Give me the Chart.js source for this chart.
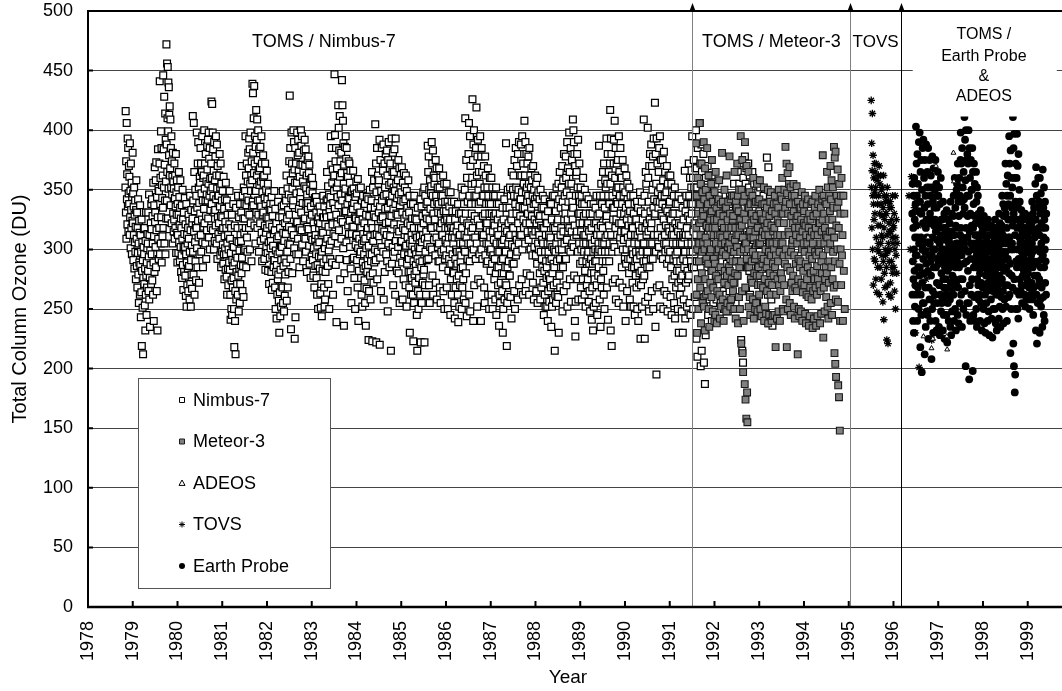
<!DOCTYPE html>
<html>
<head>
<meta charset="utf-8">
<title>Total Column Ozone</title>
<script src="https://cdn.jsdelivr.net/npm/chart.js@4.4.1/dist/chart.umd.min.js"></script>
<style>
  html, body { margin: 0; padding: 0; background: #fff; }
  canvas { display: block; }
</style>
</head>
<body>
<canvas id="ozone" width="1062" height="691"></canvas>
<script>
// axis ticks
const yearTicks = [1978, 1979, 1980, 1981, 1982, 1983, 1984, 1985, 1986, 1987, 1988,
  1989, 1990, 1991, 1992, 1993, 1994, 1995, 1996, 1997, 1998, 1999];
const ozoneTicks = [0, 50, 100, 150, 200, 250, 300, 350, 400, 450, 500];

// daily readings (DU), one string per month, spread over the days of that month
const nimbusStart = 1978 + 10 / 12;
const nimbusMonths = [
  // 1978 Nov-Dec
  "352 416 331 374 309 406 342 363 321 393 336 385 315 347 370",
  "338 361 312 389 327 349 301 372 333 318 356 296 344 324 381",
  // 1979
  "322 347 291 336 312 352 284 329 306 341 298 319 275 333 358",
  "309 286 331 268 318 297 342 279 305 255 324 289 314 262 337",
  "287 312 243 298 264 325 219 282 306 251 291 212 276 302 317",
  "296 271 318 253 284 232 307 262 331 278 245 289 268 301 313",
  "305 282 331 265 294 346 258 312 276 235 299 287 322 271 338",
  "317 296 342 274 328 305 262 356 289 240 311 337 281 369 323",
  "331 302 358 285 373 316 265 344 296 232 327 384 309 351 292",
  "349 318 372 441 296 338 360 305 399 327 385 289 354 343 311",
  "362 335 446 318 384 352 428 305 371 341 414 296 392 357 326",
  "472 388 341 456 365 410 453 326 399 440 351 436 379 413 317 420 362",
  "368 409 337 385 352 395 322 374 346 361 305 381 330 357 315",
  "351 325 372 309 343 362 318 336 380 297 348 329 358 314 289",
  // 1980
  "338 312 352 297 329 365 306 344 321 290 335 358 302 326 281",
  "318 295 337 276 309 350 287 325 266 302 331 281 313 299 343",
  "302 278 321 261 296 338 252 289 312 270 305 284 318 265 329",
  "309 286 324 258 298 345 271 316 252 291 333 279 303 267 322",
  "326 412 298 341 279 406 315 365 262 332 306 350 290 320 274",
  "345 318 398 301 335 285 372 324 390 310 352 272 339 296 361",
  "356 330 385 312 372 298 347 365 325 395 306 341 285 360 319",
  "362 334 400 322 351 372 305 341 380 328 292 357 346 316 387",
  "367 341 392 326 355 398 310 376 345 385 300 359 333 349 318",
  "372 424 338 360 422 352 398 316 384 345 366 300 390 331 307",
  "358 333 378 320 395 342 362 305 388 351 292 370 327 345 313",
  "345 322 362 309 380 336 352 295 372 328 285 355 316 341 298",
  // 1981
  "327 349 304 318 288 361 296 334 275 311 342 301 323 283 356",
  "296 318 277 341 262 305 329 284 312 270 300 336 289 321 349",
  "283 309 262 241 297 318 250 274 329 245 291 304 268 286 338",
  "276 302 250 218 289 320 240 265 212 296 335 258 281 307 271",
  "293 318 262 345 278 306 248 327 284 299 255 338 271 312 287",
  "307 331 280 370 293 318 265 345 286 326 260 352 299 314 338",
  "326 349 300 395 318 362 285 337 372 310 344 298 357 331 381",
  "341 368 318 393 329 384 300 355 398 322 349 362 290 374 336",
  "358 439 340 431 381 337 410 364 437 320 372 395 349 305 386",
  "349 417 331 392 362 409 318 375 341 400 329 366 298 384 354",
  "341 368 322 386 307 357 336 395 314 372 290 348 329 361 379",
  "331 355 309 362 292 343 320 372 283 338 314 350 302 327 366",
  // 1982
  "318 342 297 355 282 326 306 348 271 321 334 293 311 338 301",
  "307 333 281 344 266 319 295 328 272 303 338 285 313 291 349",
  "291 316 268 334 250 299 281 322 242 287 309 262 296 275 340",
  "279 311 257 327 230 298 264 318 244 283 303 252 291 269 336",
  "302 327 268 349 255 314 286 337 248 307 292 261 322 279 343",
  "313 341 289 362 257 326 298 351 268 333 305 281 346 319 374",
  "329 429 304 385 292 358 233 343 398 316 372 280 351 364 337",
  "341 400 312 390 301 367 225 356 385 243 329 372 296 347 322",
  "356 398 323 379 309 392 296 366 334 381 285 361 318 343 371",
  "348 400 331 387 316 395 304 371 339 357 290 365 324 383 310",
  "353 392 326 370 309 384 298 351 338 362 281 346 319 375 334",
  "339 378 317 364 303 371 288 349 325 356 276 336 311 359 294",
  // 1983
  "329 360 308 347 291 354 278 322 301 339 268 317 343 309 286",
  "312 344 296 331 276 340 262 303 287 324 250 309 327 294 318",
  "306 336 284 322 263 331 251 294 271 312 244 298 316 282 327",
  "314 345 289 327 268 336 252 301 258 321 281 306 330 292 341",
  "327 365 309 342 286 353 271 319 299 346 250 333 304 337 292",
  "344 395 328 371 307 385 289 356 321 367 262 339 313 361 349",
  "362 447 334 396 311 374 287 385 329 239 352 368 321 344 305",
  "356 421 337 402 316 383 292 412 361 275 374 346 325 381 309",
  "364 442 341 421 323 408 301 389 355 236 371 280 331 386 347",
  "351 395 332 376 306 385 291 364 338 265 361 320 344 374 313",
  "343 372 324 356 302 366 284 348 331 255 349 313 337 319 292",
  "334 366 319 351 293 339 276 346 327 250 344 304 326 311 357",
  // 1984
  "312 347 291 336 268 359 301 240 324 282 351 309 330 296 318",
  "331 298 352 276 318 262 341 305 252 325 289 345 313 284 307",
  "296 322 274 338 255 309 286 236 329 301 267 344 315 281 292",
  "318 287 342 224 303 265 328 296 350 278 311 258 335 290 322",
  "341 296 365 223 318 280 352 307 272 329 358 289 312 335 300",
  "405 327 291 372 222 348 313 385 275 339 298 362 318 355 331",
  "358 311 392 220 336 293 375 325 265 349 302 385 341 317 328",
  "327 366 298 388 258 345 315 372 281 352 334 308 380 322 296",
  "346 312 383 290 362 248 335 375 305 390 323 354 285 341 368",
  "311 372 339 215 356 328 393 288 345 365 302 381 270 334 352",
  "365 321 384 298 349 262 338 393 307 355 330 372 282 343 317",
  "329 358 302 375 280 346 315 368 255 337 293 352 321 306 341",
  // 1985
  "348 307 369 289 331 258 356 318 340 275 364 296 326 312 352",
  "316 342 270 362 303 329 252 349 288 335 310 322 295 358 281",
  "292 331 268 345 230 305 320 281 338 262 297 312 276 326 303",
  "308 262 338 223 290 318 255 345 279 300 326 272 312 287 296",
  "282 325 245 310 215 292 335 265 302 250 318 276 298 289 311",
  "301 262 342 222 318 285 336 255 306 290 328 272 312 348 279",
  "322 283 352 222 309 270 345 298 330 262 315 338 291 326 305",
  "340 387 310 365 292 378 270 350 325 255 358 302 334 318 347",
  "353 318 390 300 372 278 345 383 262 330 362 308 338 355 324",
  "325 360 295 375 272 345 310 368 258 340 319 352 302 331 290",
  "338 305 368 290 352 268 318 360 255 330 345 298 322 312 340",
  "312 345 285 362 265 332 300 355 250 325 292 340 318 308 329",
  // 1986
  "332 295 355 268 325 305 340 250 318 282 348 310 292 336 322",
  "300 325 245 348 275 318 288 340 262 310 332 296 315 281 305",
  "318 280 340 255 310 242 325 292 268 332 300 286 315 275 298",
  "288 320 262 338 239 310 278 330 252 298 312 270 305 290 284",
  "330 295 352 250 318 268 345 285 305 275 325 258 338 300 312",
  "350 298 410 255 330 280 375 310 244 360 322 292 340 315 305",
  "380 320 406 262 345 290 395 248 370 305 338 315 355 330 296",
  "360 426 318 375 240 388 300 400 270 345 328 355 310 338 292",
  "385 345 419 305 362 252 378 325 392 275 350 338 365 318 296",
  "355 320 395 272 340 240 378 300 385 312 365 292 345 328 310",
  "345 312 370 268 352 255 330 378 295 362 322 338 305 288 318",
  "322 352 290 368 262 345 305 338 250 330 315 360 298 310 282",
  // 1987
  "338 300 360 262 330 288 352 250 315 345 295 322 308 328 275",
  "320 292 345 258 330 280 352 245 305 338 285 315 298 325 270",
  "312 285 338 236 298 262 330 255 305 345 272 318 290 322 280",
  "305 265 335 230 292 250 325 280 308 342 258 298 318 285 272",
  "298 389 270 335 219 315 255 285 350 262 305 322 290 310 278",
  "335 278 352 312 260 345 296 325 242 365 304 330 288 318 350",
  "318 362 288 345 265 375 302 250 338 312 385 295 352 330 308",
  "370 298 345 258 380 322 350 305 390 270 336 312 362 328 342",
  "342 388 312 362 275 348 395 300 335 262 372 325 355 318 380",
  "408 335 362 305 390 265 348 322 380 280 352 340 372 315 330",
  "345 378 308 355 262 385 322 340 278 362 300 352 335 368 315",
  "328 358 295 345 272 370 312 338 258 350 302 325 342 362 315",
  // 1988
  "338 295 355 265 322 345 288 360 255 330 305 348 315 300 325",
  "312 342 280 328 258 350 298 320 268 335 292 308 285 318 345",
  "305 272 335 245 318 282 342 262 298 328 252 312 290 322 276",
  "285 322 252 305 240 332 265 298 278 312 256 290 340 275 305",
  "310 268 338 235 292 325 252 302 280 345 258 318 288 270 300",
  "285 345 215 318 262 298 332 255 305 352 272 290 322 262 310",
  "325 260 355 230 300 342 278 365 292 268 312 335 285 318 305",
  "352 300 370 248 340 285 358 315 265 380 325 305 345 292 335",
  "330 378 292 360 270 348 308 390 252 325 368 315 340 300 355",
  "398 318 365 275 345 298 385 256 330 355 315 375 305 340 325",
  "409 335 400 302 390 278 380 320 240 370 227 256 345 362 312",
  "365 315 380 275 352 298 392 258 330 345 305 372 322 340 288",
  // 1989
  "330 352 268 315 300 345 258 338 290 322 275 360 305 312 328",
  "298 338 262 350 282 312 252 330 305 290 345 270 318 322 295",
  "275 322 298 342 256 315 288 265 330 248 305 310 338 292 280",
  "318 241 305 268 330 288 232 298 338 252 280 322 275 308 290",
  "300 335 255 322 290 345 270 312 245 328 298 318 278 305 285",
  "387 300 330 258 345 312 235 320 275 355 298 268 338 305 290",
  "318 365 282 345 262 372 305 250 335 298 358 310 352 290 325",
  "393 328 268 355 312 380 241 345 298 365 320 290 338 305 372",
  "417 355 232 393 312 380 219 362 298 345 272 335 325 305 372",
  "392 335 302 408 275 360 318 385 258 348 325 372 340 312 352",
  "338 375 298 352 255 395 322 365 272 345 310 385 330 360 315",
  "322 360 285 338 268 375 300 352 252 345 308 330 315 368 292",
  // 1990
  "315 348 240 335 288 362 300 325 265 355 342 310 292 330 320",
  "338 280 352 305 258 332 292 345 312 252 325 298 318 285 300",
  "272 318 296 345 252 330 285 305 338 245 312 290 325 278 298",
  "325 268 292 340 250 312 286 335 240 305 320 272 298 280 315",
  "348 295 225 332 270 310 282 340 252 318 298 325 275 305 290",
  "409 305 278 345 225 330 256 318 365 290 355 312 298 322 285",
  "298 402 260 360 315 340 248 370 285 325 380 305 332 292 318",
  "388 322 265 370 305 350 292 378 250 335 393 312 342 298 328",
  "423 330 235 380 298 355 195 393 268 340 372 312 348 305 335",
  "365 302 385 270 340 395 252 352 318 375 295 330 345 310 328",
  "338 375 292 358 250 325 382 305 265 345 312 365 298 335 320",
  "305 348 262 370 288 332 248 355 300 318 362 292 338 315 328",
  // 1991
  "340 298 362 260 325 285 355 245 312 348 275 330 305 318 292",
  "312 345 255 330 278 352 242 322 295 338 268 305 290 318 282",
  "298 338 250 315 272 345 230 322 282 330 262 305 290 312 275",
  "320 268 342 248 305 278 335 230 312 292 325 258 298 285 310",
  "366 298 242 332 312 272 345 290 318 252 338 282 305 275 328",
  "312 372 278 345 255 325 360 298 245 338 290 352 305 330 285",
  "395 338 298 360 250 315 375 285 352 322 260 345 305 368 290",
  "400 312 225 368 290 352 210 385 262 332 305 345 320 300 360",
  "406 338 305 372 202 355 295 388 215 365 325 265 350 318 310",
  "380 300 205 350 260 340 187 370 290 228 360 312 330 320 345",
  "352 285 370 315 245 342 305 332 295 362 258 325 338 312 300",
  "318 345 282 362 240 335 300 355 290 328 255 305 340 310 322",
  // 1992
  "335 300 355 275 318 258 345 285 310 328",
  "312 345 270 328 295 338 255 305 282 320",
  "290 340 265 308 322 250 332 278 298 315",
  "320 262 338 288 305 248 330 275 298 312",
  "265 345 292 310 250 338 280 325 300 315",
  "318 285 355 272 300 345 255 335 290 325",
  "342 278 365 305 325 260 355 290 335 312",
  "350 224 372 310 215 330 205 360 295 340",
  "335 378 298 355 265 368 285 315 345 325",
  "372 312 352 282 362 262 332 295 340 318",
  "325 365 290 345 258 308 355 278 335 300",
  "302 338 275 358 255 318 285 348 310 325",
  // 1993 Jan-Apr
  "332 298 352 272 315 244 342 282 305 325",
  "308 345 268 325 292 336 240 315 278 300",
  "377 288 320 262 369 238 305 275 345 330",
  "302 340 258 318 285 236 330 272 298 312"
];

const meteorStart = 1991 + 7 / 12;
const meteorMonths = [
  // 1991 Aug-Dec
  "389 318 262 345 230 300 360 275 330 250 338 290 305 322",
  "406 338 268 312 355 238 325 372 280 298 348 255 332 305",
  "328 390 252 342 300 232 368 275 310 350 262 292 320 335",
  "385 305 265 338 288 362 250 318 235 345 298 325 272 330",
  "300 355 260 332 375 282 318 248 340 268 312 292 325 240",
  // 1992
  "348 288 318 245 365 305 278 335 238 325 265 298 312 340",
  "275 342 300 358 262 330 242 312 285 338 252 305 322 295",
  "381 310 258 340 298 328 240 318 272 350 282 305 250 335",
  "295 335 248 362 278 312 255 325 302 340 270 318 285 305",
  "378 282 330 252 342 300 258 318 275 345 310 290 325 265",
  "328 272 345 298 250 365 308 280 318 242 340 290 312 335",
  "302 372 278 345 238 312 332 260 350 285 318 250 298 325",
  "395 290 221 350 320 265 375 213 310 197 340 240 300 330",
  "345 187 390 268 174 325 305 158 370 292 180 155 335 285",
  "300 365 252 335 285 348 260 315 245 338 275 310 322 290",
  "330 272 345 298 258 360 310 242 325 280 338 292 250 315",
  "295 340 255 328 278 355 305 248 318 270 340 285 305 262",
  // 1993
  "342 278 358 305 250 330 270 295 244 325 310 338 288 315",
  "268 325 292 352 240 338 275 312 252 300 330 246 318 285",
  "335 265 322 290 350 238 312 272 298 245 328 305 280 340",
  "262 348 295 320 240 332 270 305 244 288 315 278 338 300",
  "318 245 345 285 330 218 295 262 338 305 242 312 275 325",
  "290 335 248 350 270 322 298 240 312 265 345 280 305 330",
  "342 275 360 305 250 330 248 295 322 270 350 312 288 335",
  "386 300 340 258 372 218 347 285 364 250 330 315 295 355",
  "312 369 255 338 282 352 245 298 328 272 345 305 265 322",
  "308 278 355 332 252 295 345 242 318 268 338 288 312 325",
  "353 265 305 328 212 340 275 292 250 318 244 335 285 310",
  "290 335 248 325 272 348 300 240 315 264 338 282 305 322",
  // 1994
  "332 270 298 345 246 320 288 238 312 262 338 275 305 325",
  "285 342 260 318 236 330 295 244 310 268 325 280 300 338",
  "258 315 292 340 234 305 265 328 282 242 312 275 335 298",
  "345 268 318 236 295 330 262 286 244 312 275 338 300 322",
  "298 350 270 322 238 305 265 335 246 290 315 280 342 325",
  "379 295 226 345 268 330 305 248 318 275 340 285 312 260",
  "338 280 365 310 252 352 300 242 325 272 345 290 315 332",
  "305 370 255 342 285 358 315 245 325 275 352 298 335 268",
  "386 310 213 377 290 204 382 258 193 320 345 270 335 300",
  "367 256 186 340 318 176 355 288 148 240 330 300 345 270",
  "360 295 312 240 345 282 330 250"
];

const tovsStart = 1995 + 6 / 12;
const tovsMonths = [
  // 1995 Jul-Dec
  "425 352 389 318 366 414 300 345 379 270 338 360 325 292 372 348",
  "330 365 290 352 275 372 310 345 264 358 300 338 285 320 362 305",
  "345 298 370 262 330 355 285 320 362 305 338 275 350 312 295 328",
  "310 352 256 335 290 362 241 318 345 280 325 268 300 340 295 330",
  "330 285 345 224 312 352 270 298 221 340 305 262 322 290 335 315",
  "300 340 272 315 260 335 290 325 285 310 345 280 305 320",
  // 1996 Jan-Nov
  "318 285 330 265 300 345 250 310 295 325 280 305",
  "",
  "",
  "",
  "345 300 361",
  "355 290 335 230",
  "340 285 320 201",
  "330 280 310 245",
  "320 275",
  "300 249",
  "224 260"
];

const earthProbeStart = 1996 + 5 / 12;
const earthProbeMonths = [
  // 1996 Jun-Dec
  "330 262 355 290 240 318 275 345 230 300 360 282 325 252 310 270 338 295",
  "403 320 262 372 295 345 240 380 310 268 355 285 332 250 390 305 340 278",
  "398 285 340 218 365 262 310 375 245 330 197 350 272 300 385 255 322 292",
  "392 305 255 360 280 335 212 375 298 268 345 235 318 388 288 325 248 352",
  "310 365 245 338 282 385 225 322 268 352 295 258 375 305 330 240 345 290",
  "362 278 325 208 352 295 250 378 310 265 340 230 300 368 285 320 255 335",
  "300 350 262 325 375 240 315 285 355 232 335 272 308 345 255 292 365 318",
  // 1997
  "345 288 320 235 352 270 305 228 338 295 262 312 360 248 325 280 300 255",
  "290 325 258 310 232 340 275 300 245 318 268 330 225 295 285 308 262 315",
  "318 275 300 245 333 262 290 222 312 282 255 325 298 268 240 305 285 310",
  "285 322 258 305 235 340 272 295 228 315 262 330 248 300 278 312 290 268",
  "328 262 345 292 240 312 275 360 300 250 335 285 320 232 305 270 350 295",
  "355 290 318 245 372 305 268 340 238 328 285 360 300 255 345 312 275 375",
  "398 318 262 372 295 340 235 385 310 275 352 300 330 250 365 288 342 305",
  "411 335 265 392 300 358 202 400 318 245 375 290 345 255 380 310 328 282",
  "372 298 400 255 345 191 385 315 270 360 240 330 292 375 305 262 350 320",
  "350 275 385 300 198 365 318 245 338 285 372 260 328 305 355 240 312 290",
  "322 285 365 250 340 295 235 352 275 312 262 345 300 270 330 258 310 288",
  "300 262 325 280 240 312 290 333 255 305 272 320 232 295 285 315 268 298",
  // 1998
  "285 312 250 295 328 270 305 238 318 262 290 300 230 322 278 308 255 298",
  "298 265 318 282 240 305 325 272 292 248 312 285 228 300 268 320 290 275",
  "275 305 258 290 320 242 298 280 312 226 288 265 302 250 315 285 270 295",
  "310 272 292 250 325 280 305 238 318 262 298 285 232 312 275 300 268 290",
  "288 318 262 302 242 330 278 295 252 322 285 308 235 298 272 315 260 305",
  "320 275 345 290 250 312 265 338 298 238 328 282 305 258 335 295 270 310",
  "372 298 330 252 355 285 318 240 345 305 270 362 292 325 260 338 310 280",
  "395 310 262 372 288 345 213 383 300 325 250 360 278 335 305 352 268 320",
  "411 300 221 385 330 202 397 275 360 180 312 195 340 250 372 290 325 265",
  "360 285 397 318 250 370 300 335 242 380 292 325 262 350 310 340 275 305",
  "300 322 265 310 285 333 270 298 255 315 288 305 278 328 262 295 318 282",
  "292 318 262 305 280 330 252 298 285 312 270 325 258 302 290 275 315 288",
  // 1999 Jan-May
  "310 280 325 258 298 315 268 290 250 322 285 305 272 328 262 300 295 318",
  "322 272 305 340 258 298 285 330 245 315 290 268 335 300 278 310 262 325",
  "355 288 325 232 369 300 262 345 221 315 278 335 255 300 360 290 318 270",
  "340 275 312 230 360 298 258 330 285 347 252 305 322 268 292 318 235 300",
  "367 295 260 335 310 245 352 285 325 240 300 340 272 318 290 308 262 330"
];

// ADEOS readings that show between the Earth Probe points
const adeosYears = [1996.67, 1996.77, 1996.85, 1996.88, 1996.95, 1997.19, 1997.2, 1997.34, 1997.35];
const adeosValues = [227, 310, 217, 225, 370, 227, 216, 381, 357];

// instrument change-overs drawn as vertical lines
const changeYears = [1991.5, 1995.03, 1996.17];
const changeColors = ['#808080', '#808080', '#000000'];

function monthly(start, months) {
  const pts = [];
  months.forEach((row, i) => {
    const vals = row.trim() ? row.trim().split(/\s+/).map(Number) : [];
    vals.forEach((v, j) => {
      pts.push({ x: start + (i + (j + 0.5) / vals.length) / 12, y: v });
    });
  });
  return pts;
}

Chart.defaults.font.family = "'Liberation Sans', Arial, sans-serif";
Chart.defaults.color = '#000';

function drawMarker(ctx, style, x, y, r, fill) {
  ctx.beginPath();
  if (style === 'rect') {
    ctx.rect(x - r, y - r, 2 * r, 2 * r);
    ctx.fillStyle = fill;
    ctx.fill();
    ctx.stroke();
  } else if (style === 'triangle') {
    ctx.moveTo(x, y - r);
    ctx.lineTo(x + r, y + r * 0.8);
    ctx.lineTo(x - r, y + r * 0.8);
    ctx.closePath();
    ctx.fillStyle = fill;
    ctx.fill();
    ctx.stroke();
  } else if (style === 'star') {
    for (let k = 0; k < 4; k++) {
      const a = k * Math.PI / 4;
      ctx.moveTo(x - r * Math.cos(a), y - r * Math.sin(a));
      ctx.lineTo(x + r * Math.cos(a), y + r * Math.sin(a));
    }
    ctx.stroke();
  } else {
    ctx.arc(x, y, r, 0, Math.PI * 2);
    ctx.fillStyle = fill;
    ctx.fill();
  }
}

const decorations = {
  id: 'decorations',
  afterDatasetsDraw(chart) {
    const { ctx, chartArea: a, scales: { x, y } } = chart;
    ctx.save();

    // change-over lines with arrowheads above the frame
    changeYears.forEach((yr, i) => {
      const px = Math.round(x.getPixelForValue(yr)) + 0.5;
      ctx.strokeStyle = changeColors[i];
      ctx.lineWidth = 1;
      ctx.beginPath();
      ctx.moveTo(px, a.top);
      ctx.lineTo(px, a.bottom);
      ctx.stroke();
      ctx.fillStyle = '#000';
      ctx.beginPath();
      ctx.moveTo(px, a.top - 8);
      ctx.lineTo(px + 3, a.top);
      ctx.lineTo(px - 3, a.top);
      ctx.closePath();
      ctx.fill();
    });

    // section labels
    ctx.fillStyle = '#000';
    ctx.textAlign = 'center';
    ctx.textBaseline = 'middle';
    ctx.font = "18px 'Liberation Sans', Arial, sans-serif";
    ctx.fillText('TOMS / Nimbus-7', x.getPixelForValue(1983.27), y.getPixelForValue(474));
    ctx.fillText('TOMS / Meteor-3', x.getPixelForValue(1993.27), y.getPixelForValue(474));
    ctx.font = "17px 'Liberation Sans', Arial, sans-serif";
    ctx.fillText('TOVS', x.getPixelForValue(1995.6), y.getPixelForValue(474));

    // white label box for the last section
    const bx0 = x.getPixelForValue(1996.43), bx1 = x.getPixelForValue(1999.65);
    const by0 = a.top + 1, by1 = y.getPixelForValue(411.5);
    ctx.fillStyle = '#fff';
    ctx.fillRect(bx0, by0, bx1 - bx0, by1 - by0);
    ctx.fillStyle = '#000';
    ctx.font = "16px 'Liberation Sans', Arial, sans-serif";
    const cx = x.getPixelForValue(1998.02);
    ['TOMS /', 'Earth Probe', '&', 'ADEOS'].forEach((t, i) => {
      ctx.fillText(t, cx, y.getPixelForValue([480.2, 461.7, 444.9, 428.1][i]));
    });

    // x-axis title, centred under the year labels
    ctx.font = "19px 'Liberation Sans', Arial, sans-serif";
    ctx.fillText('Year', 568, 678);

    // frame: top line, left and bottom axes with inward ticks
    ctx.strokeStyle = '#000';
    ctx.lineWidth = 2;
    ctx.beginPath();
    ctx.moveTo(a.left - 1, a.top);
    ctx.lineTo(a.right, a.top);
    ctx.moveTo(a.left, a.top);
    ctx.lineTo(a.left, a.bottom);
    ctx.stroke();
    ctx.lineWidth = 2.5;
    ctx.beginPath();
    ctx.moveTo(a.left - 1, a.bottom);
    ctx.lineTo(a.right, a.bottom);
    ctx.stroke();
    ctx.lineWidth = 2;
    ctx.beginPath();
    yearTicks.forEach(v => {
      const px = x.getPixelForValue(v);
      ctx.moveTo(px, a.bottom);
      ctx.lineTo(px, a.bottom - 6);
    });
    ozoneTicks.forEach(v => {
      const py = y.getPixelForValue(v);
      ctx.moveTo(a.left, py);
      ctx.lineTo(a.left + 5, py);
    });
    ctx.stroke();

    // legend box
    const lx = 138, ly = 378, lw = 192, lh = 210;
    ctx.fillStyle = '#fff';
    ctx.fillRect(lx, ly, lw, lh);
    ctx.strokeStyle = '#555';
    ctx.lineWidth = 1;
    ctx.strokeRect(lx + 0.5, ly + 0.5, lw, lh);
    ctx.textAlign = 'left';
    ctx.font = "18px 'Liberation Sans', Arial, sans-serif";
    const legendOrder = ['Nimbus-7', 'Meteor-3', 'ADEOS', 'TOVS', 'Earth Probe'];
    legendOrder.forEach((label, i) => {
      const ds = chart.data.datasets.find(d => d.label === label);
      const ey = ly + 22 + i * 41.5;
      ctx.strokeStyle = ds.pointBorderColor;
      ctx.lineWidth = 1;
      drawMarker(ctx, ds.pointStyle, 182, ey, ds.pointStyle === 'rect' ? 2.5 : 3, ds.pointBackgroundColor);
      ctx.fillStyle = '#000';
      ctx.fillText(label, 193, ey + 1);
    });
    ctx.restore();
  }
};

new Chart(document.getElementById('ozone'), {
  type: 'scatter',
  data: {
    datasets: [
      {
        label: 'ADEOS',
        data: adeosYears.map((yr, i) => ({ x: yr, y: adeosValues[i] })),
        pointStyle: 'triangle',
        pointRadius: 2.8,
        pointBackgroundColor: '#fff',
        pointBorderColor: '#000',
        pointBorderWidth: 1,
        order: 0
      },
      {
        label: 'TOVS',
        data: monthly(tovsStart, tovsMonths),
        pointStyle: 'star',
        pointRadius: 3.8,
        pointBackgroundColor: '#000',
        pointBorderColor: '#000',
        pointBorderWidth: 1.3,
        order: 1
      },
      {
        label: 'Meteor-3',
        data: monthly(meteorStart, meteorMonths),
        pointStyle: 'rect',
        pointRadius: 4.8,
        pointBackgroundColor: '#808080',
        pointBorderColor: '#1a1a1a',
        pointBorderWidth: 1.1,
        order: 2
      },
      {
        label: 'Nimbus-7',
        data: monthly(nimbusStart, nimbusMonths),
        pointStyle: 'rect',
        pointRadius: 4.8,
        pointBackgroundColor: '#fff',
        pointBorderColor: '#000',
        pointBorderWidth: 1.25,
        order: 3
      },
      {
        label: 'Earth Probe',
        data: monthly(earthProbeStart, earthProbeMonths),
        pointStyle: 'circle',
        pointRadius: 3.9,
        pointBackgroundColor: '#000',
        pointBorderColor: '#000',
        pointBorderWidth: 0,
        order: 4
      }
    ]
  },
  options: {
    responsive: false,
    animation: false,
    layout: { autoPadding: false, padding: { top: 11, left: 1, right: 0, bottom: 0 } },
    plugins: {
      legend: { display: false },
      tooltip: { enabled: false }
    },
    scales: {
      x: {
        type: 'linear',
        min: 1978,
        max: 1999.766,
        afterBuildTicks: (s) => { s.ticks = yearTicks.map(v => ({ value: v })); },
        afterFit: (s) => { s.height = 84; s.paddingLeft = 0; s.paddingRight = 0; },
        ticks: {
          minRotation: 90,
          maxRotation: 90,
          padding: 14,
          font: { size: 18 },
          callback: (v) => String(v)
        },
        grid: { display: false, drawTicks: false },
        border: { display: false },
        title: { display: false }
      },
      y: {
        min: 0,
        max: 500,
        afterBuildTicks: (s) => { s.ticks = ozoneTicks.map(v => ({ value: v })); },
        afterFit: (s) => { s.width = 87; s.paddingTop = 0; s.paddingBottom = 0; },
        ticks: { padding: 15, font: { size: 18 } },
        grid: {
          drawTicks: false,
          color: (c) => (c.tick && (c.tick.value === 0 || c.tick.value === 500)) ? 'rgba(0,0,0,0)' : '#444',
          lineWidth: 1
        },
        border: { display: false },
        title: { display: true, text: 'Total Column Ozone (DU)', font: { size: 20 }, padding: { top: 7, bottom: 0 } }
      }
    }
  },
  plugins: [decorations]
});
</script>
</body>
</html>
